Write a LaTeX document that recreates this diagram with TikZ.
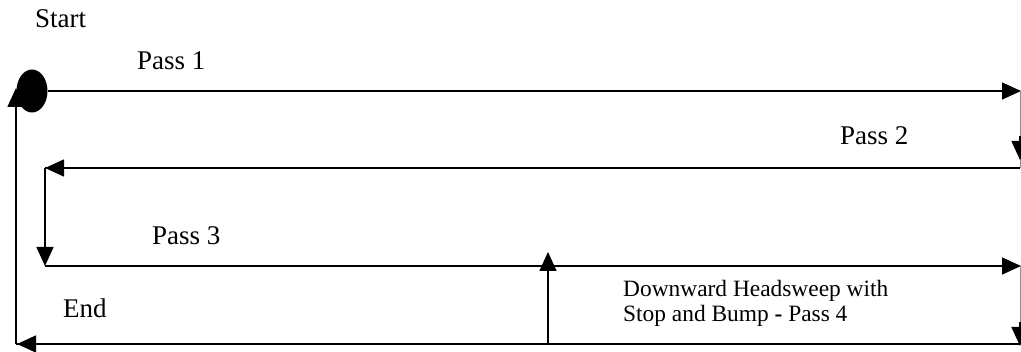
\documentclass[tikz,border=0pt]{standalone}
\usepackage{fontspec}
\setmainfont{Liberation Serif}
\usetikzlibrary{arrows.meta,shapes.geometric,calc}
\begin{document}
\begin{tikzpicture}[x=1pt,y=-1pt,
  flow/.style={line width=1.5pt,draw=black,-{Triangle[length=19pt,width=17pt]}},
  plain/.style={line width=1.5pt,draw=black},
  thin/.style={line width=0.9pt,draw=black!45},
  head/.style={-{Triangle[length=19pt,width=17pt]},line width=1.5pt},
  lbl/.style={anchor=base west,inner sep=0pt,font=\fontsize{27}{30}\selectfont},
  note/.style={anchor=base west,inner sep=0pt,font=\fontsize{23.4}{25}\selectfont}]
\useasboundingbox (0,0) rectangle (1021,352);
% corner coordinates
\coordinate (p1e) at (1021,91);
\coordinate (r1t) at (1020,91);
\coordinate (r1b) at (1020,168);
\coordinate (p2e) at (1020,168);
\coordinate (p2w) at (45,168);
\coordinate (p3w) at (45,266);
\coordinate (p3e) at (1021,266);
\coordinate (r2t) at (1020,266);
\coordinate (r2b) at (1020,344);
\coordinate (bw) at (17,344);
\coordinate (bl) at (16,344);
\coordinate (bt) at (16,88);
\coordinate (ub) at (548,344);
\coordinate (ut) at (548,252);
% start dot
\node[ellipse,fill=black,minimum width=31pt,minimum height=43pt,inner sep=0pt] (dot) at (32,91) {};
% pass 1
\draw[flow] (dot.east) -- (p1e);
% right connector 1
\draw[thin] (r1t) -- (r1b);
\draw[head] (1020,136) -- (1020,160);
% pass 2
\draw[plain] (p2e) -- (p2w);
\draw[head] ($(p2w)+(30,0)$) -- (p2w);
% left connector
\draw[flow] (p2w) -- (p3w);
% pass 3
\draw[flow] (p3w) -- (p3e);
% right connector 2
\draw[thin] (r2t) -- (r2b);
\draw[head] (1020,322) -- (1020,346);
% pass 4 return
\draw[plain] (r2b) -- (bl);
\draw[head] ($(bw)+(30,0)$) -- (bw);
% outer left
\draw[flow] (bl) -- (bt);
% up arrow
\draw[flow] (ub) -- (ut);
% labels
\node[lbl] (start) at (35,28) {Start};
\node[lbl] (pass1) at (137,70) {Pass 1};
\node[lbl] (pass2) at (840,145) {Pass 2};
\node[lbl] (pass3) at (152,245) {Pass 3};
\node[lbl] (end) at (63,318) {End};
\node[note] (down1) at (623,297) {Downward Headsweep with};
\node[note] (down2) at (623,322) {Stop and Bump \textbf{-} Pass 4};
\end{tikzpicture}
\end{document}
